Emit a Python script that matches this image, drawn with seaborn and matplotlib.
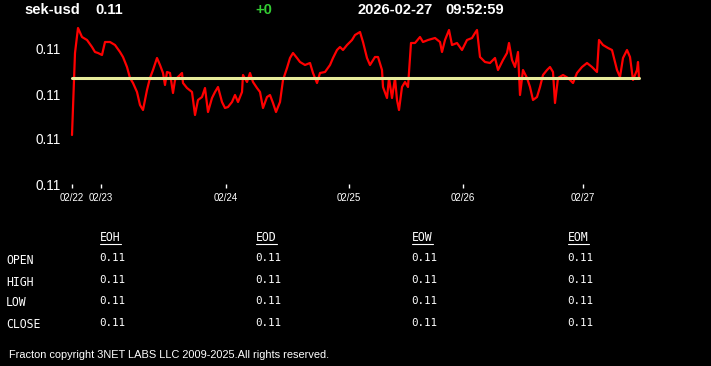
import matplotlib
matplotlib.use("Agg")
import matplotlib.pyplot as plt
from matplotlib.lines import Line2D
import seaborn as sns
import pandas as pd

# ---- data ----
symbol = "sek-usd"
last_price = "0.11"
change = "+0"
stamp_date = "2026-02-27"
stamp_time = "09:52:59"

# sample index along the session axis and price
bar_idx = [0, 3, 6, 10, 15, 20, 23, 26, 30, 33, 38, 43, 48, 51, 55, 58, 61, 65, 68, 71,
           75, 78, 81, 85, 88, 91, 93, 95, 98, 101, 103, 106, 110, 111, 115, 120, 123, 126, 130, 133,
           136, 140, 143, 146, 150, 153, 156, 160, 163, 166, 170, 171, 175, 178, 181, 185, 188, 191, 195, 198,
           201, 204, 208, 211, 215, 218, 221, 225, 228, 233, 238, 241, 245, 248, 253, 258, 261, 265, 268, 271,
           275, 280, 283, 288, 291, 295, 298, 303, 306, 310, 311, 315, 317, 320, 323, 325, 327, 330, 333, 336,
           339, 343, 348, 351, 356, 363, 368, 370, 373, 377, 380, 385, 390, 395, 400, 403, 405, 408, 413, 418,
           423, 426, 431, 435, 437, 440, 443, 446, 448, 451, 455, 458, 461, 465, 468, 471, 475, 478, 481, 483,
           486, 491, 496, 501, 505, 510, 515, 520, 525, 527, 531, 536, 540, 545, 548, 551, 555, 558, 561, 563,
           565, 566, 567]
price = [0.10949, 0.11031, 0.11056, 0.11047, 0.11044, 0.11037, 0.11032, 0.11031, 0.11029, 0.11042,
         0.11042, 0.11039, 0.11032, 0.11027, 0.11017, 0.11006, 0.11001, 0.10992, 0.10979, 0.10974,
         0.10994, 0.11006, 0.11014, 0.11026, 0.11019, 0.11011, 0.10999, 0.11012, 0.11011, 0.10991,
         0.11004, 0.11007, 0.11011, 0.11001, 0.10996, 0.10992, 0.10969, 0.10984, 0.10987, 0.10996,
         0.10972, 0.10986, 0.10992, 0.10997, 0.10982, 0.10976, 0.10977, 0.10982, 0.10989, 0.10982,
         0.10992, 0.11009, 0.11002, 0.11011, 0.11002, 0.10996, 0.10992, 0.10976, 0.10987, 0.10989,
         0.10981, 0.10972, 0.10982, 0.11004, 0.11016, 0.11026, 0.11031, 0.11026, 0.11022, 0.11019,
         0.11021, 0.11011, 0.11001, 0.11011, 0.11012, 0.11019, 0.11026, 0.11034, 0.11037, 0.11034,
         0.11039, 0.11044, 0.11049, 0.11052, 0.11042, 0.11026, 0.11019, 0.11027, 0.11027, 0.11014,
         0.10997, 0.10986, 0.11006, 0.10986, 0.11006, 0.10984, 0.10974, 0.10997, 0.11002, 0.10997,
         0.11041, 0.11041, 0.11047, 0.11042, 0.11044, 0.11046, 0.11042, 0.11032, 0.11044, 0.11054,
         0.11039, 0.11041, 0.11034, 0.11044, 0.11046, 0.11051, 0.11054, 0.11027, 0.11022, 0.11021,
         0.11026, 0.11014, 0.11024, 0.11031, 0.11041, 0.11024, 0.11017, 0.11032, 0.10989, 0.11014,
         0.11006, 0.10997, 0.10984, 0.10987, 0.10997, 0.11009, 0.11014, 0.11017, 0.11012, 0.10981,
         0.11006, 0.11009, 0.11006, 0.11001, 0.11011, 0.11017, 0.11021, 0.11017, 0.11012, 0.11044,
         0.11039, 0.11036, 0.11034, 0.11014, 0.11007, 0.11026, 0.11034, 0.11027, 0.11004, 0.11009,
         0.11014, 0.11022, 0.11006]
ref_price = 0.11006

day_ticks = [0, 29, 154, 277, 391, 511]
day_labels = ["02/22", "02/23", "02/24", "02/25", "02/26", "02/27"]
price_ticks = [0.10900, 0.10945, 0.10990, 0.11035]
price_labels = ["0.11", "0.11", "0.11", "0.11"]

table_cols = ["EOH", "EOD", "EOW", "EOM"]
table_rows = ["OPEN", "HIGH", "LOW", "CLOSE"]
table_vals = [["0.11", "0.11", "0.11", "0.11"],
              ["0.11", "0.11", "0.11", "0.11"],
              ["0.11", "0.11", "0.11", "0.11"],
              ["0.11", "0.11", "0.11", "0.11"]]
footer = "Fracton copyright 3NET LABS LLC 2009-2025.All rights reserved."

df = pd.DataFrame({"idx": bar_idx, "price": price})

# ---- style ----
sns.set_theme(style="dark", rc={"axes.facecolor": "black", "figure.facecolor": "black",
                                "axes.grid": False})
plt.rcParams["font.family"] = ["Liberation Sans", "DejaVu Sans"]

W, H = 711, 366
fig = plt.figure(figsize=(W / 100, H / 100), dpi=100)
ax = fig.add_axes([72 / W, (H - 184) / H, 567 / W, 159 / H])

sns.lineplot(data=df, x="idx", y="price", ax=ax, color="#ff0000", linewidth=1.6,
             estimator=None, sort=False)
ax.axhline(ref_price, xmin=0, xmax=1, color="#e6eb9a", linewidth=2.2, zorder=3)
for l in ax.lines:
    l.set_clip_on(False)

ax.set_xlim(0, 567)
ax.set_ylim(0.10900, 0.11059)
ax.set_xticks(day_ticks)
ax.set_xticklabels(day_labels)
ax.set_yticks(price_ticks)
ax.set_yticklabels(price_labels)
ax.set_xlabel("")
ax.set_ylabel("")
for s in ax.spines.values():
    s.set_visible(False)
ax.tick_params(axis="x", colors="white", length=3, width=1, pad=3.5, labelsize=7, direction="out",
               bottom=True)
ax.tick_params(axis="y", colors="white", length=0, pad=8, labelsize=9.8, left=True)

def px(x, y):
    return x / W, 1 - y / H

# header line
fig.text(*px(24, 10), symbol, color="white", fontsize=10.5, fontweight="bold", va="center")
fig.text(*px(95, 10), last_price, color="white", fontsize=10.5, fontweight="bold", va="center")
fig.text(*px(255, 10), change, color="#33cc33", fontsize=10.5, fontweight="bold", va="center")
fig.text(*px(357, 10), stamp_date, color="white", fontsize=10.5, fontweight="bold", va="center")
fig.text(*px(445, 10), stamp_time, color="white", fontsize=10.5, fontweight="bold", va="center")

# OHLC table
mono = ["DejaVu Sans Mono"]
col_x = [99, 255, 411, 567]
row_y = [259, 281, 302, 324]
for cx, name in zip(col_x, table_cols):
    fig.text(*px(cx + 1, 238), name, color="white", fontsize=8.3, family=mono, va="center")
    fig.add_artist(Line2D([(cx + 1) / W, (cx + 22) / W], [1 - 243.5 / H] * 2,
                          color="white", linewidth=0.8))
for ry, rname, vals in zip(row_y, table_rows, table_vals):
    fig.text(*px(6, ry + 1), rname, color="white", fontsize=8.3, family=mono, va="center")
    for cx, v in zip(col_x, vals):
        fig.text(*px(cx, ry - 1), v, color="white", fontsize=7.8, family=mono, va="center")

fig.text(*px(9, 355), footer, color="white", fontsize=7.9, va="center")

fig.savefig("out.png", dpi=100, facecolor="black")
